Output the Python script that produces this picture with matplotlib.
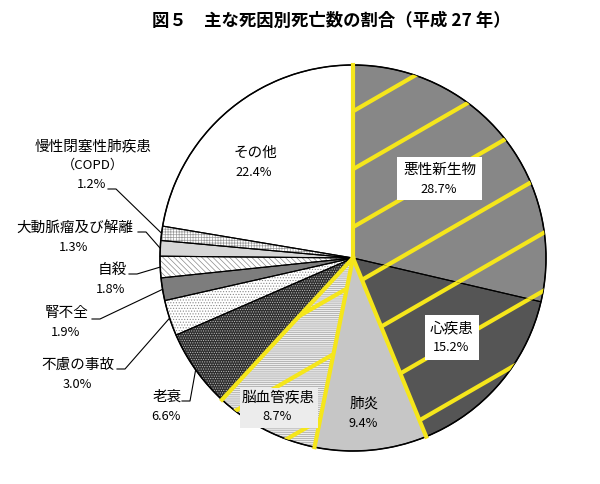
import matplotlib
matplotlib.use("Agg")
import matplotlib.pyplot as plt
from matplotlib.patches import Wedge, Circle, Rectangle
import numpy as np

plt.rcParams['font.family'] = ['Noto Sans CJK JP', 'DejaVu Sans']
plt.rcParams['hatch.linewidth'] = 0.5

# data: main causes of death, share of all deaths (H27)
causes = ['悪性新生物', '心疾患', '肺炎', '脳血管疾患', '老衰', '不慮の事故',
          '腎不全', '自殺', '大動脈瘤及び解離', '慢性閉塞性肺疾患', 'その他']
shares = [28.7, 15.2, 9.4, 8.7, 6.6, 3.0, 1.9, 1.8, 1.3, 1.2, 22.4]
pct_labels = ['%.1f%%' % s for s in shares]

# styles per slice
face_colors = ['#878787', '#555555', '#c6c6c6', '#ececec', '#2e2e2e', '#ffffff',
               '#7d7d7d', '#ffffff', '#d6d6d6', '#ffffff', '#ffffff']
hatches = [None, None, None, '--------', '.......', '......',
           None, '\\\\\\\\\\\\', None, '++++++', None]
hatch_colors = [None, None, None, '#a0a0a0', '#bdbdbd', '#8a8a8a',
                None, '#8a8a8a', None, '#9a9a9a', None]
striped = ['悪性新生物', '心疾患', '脳血管疾患']
yellow = '#f5e61b'

# pixel layout of the reference (center and radius of the pie)
CX, CY, R = 353, 258, 193
W, H = 600, 484


def px(x, y):
    return ((x - CX) / R, (CY - y) / R)


fig = plt.figure(figsize=(6, 4.84), dpi=100)
ax = fig.add_axes([0, 0, 1, 1])

wedges, _ = ax.pie(shares, startangle=90, counterclock=False, radius=1,
                   colors=face_colors, wedgeprops=dict(linewidth=0, zorder=1))

# hatch overlays and black outlines
for w, h, hc in zip(wedges, hatches, hatch_colors):
    if h:
        ax.add_patch(Wedge(w.center, w.r, w.theta1, w.theta2, facecolor='none',
                           edgecolor=hc, linewidth=0, hatch=h, zorder=2))
    ax.add_patch(Wedge(w.center, w.r, w.theta1, w.theta2, facecolor='none',
                       edgecolor='black', linewidth=0.8, zorder=3))
ax.add_patch(Circle((0, 0), 1, facecolor='none', edgecolor='black',
                    linewidth=1.1, zorder=3))

# yellow diagonal stripes on the highlighted slices
ang = np.deg2rad(30)
t = np.linspace(-2.5, 2.5, 2)
for w, name in zip(wedges, causes):
    if name not in striped:
        continue
    for k in range(-10, 11):
        c = 0.16 + 0.3 * k
        ys = np.tan(ang) * t + c
        ln, = ax.plot(t, ys, color=yellow, linewidth=3, zorder=4,
                      solid_capstyle='round')
        ln.set_clip_path(w)

# yellow boundaries around the top four causes
edge_angles = [wedges[0].theta2] + [w.theta1 for w in wedges[1:4]]
for deg in edge_angles:
    a = np.deg2rad(deg)
    ax.plot([0, np.cos(a)], [0, np.sin(a)], color=yellow, linewidth=3, zorder=5)

# label boxes
boxes = {'悪性新生物': (397, 157, 85, 43, 'white'),
         '心疾患': (425, 315, 54, 45, 'white'),
         '脳血管疾患': (240, 388, 78, 40, '#ececec')}
for name, (bx, by, bw, bh, bc) in boxes.items():
    x0, y0 = px(bx, by + bh)
    ax.add_patch(Rectangle((x0, y0), bw / R, bh / R, facecolor=bc,
                           edgecolor='none', zorder=6))

# label positions (pixel): first line center
label_pos = {'悪性新生物': (440, 170), '心疾患': (452, 328), '肺炎': (364, 404),
             '脳血管疾患': (278, 397), 'その他': (255, 153), '老衰': (167, 397),
             '不慮の事故': (78, 365), '腎不全': (67, 313), '自殺': (112, 270),
             '大動脈瘤及び解離': (75, 228), '慢性閉塞性肺疾患': (93, 146)}
extra_lines = {'慢性閉塞性肺疾患': ['（COPD）']}
leader_start = {'老衰': (182, 401), '不慮の事故': (117, 369), '腎不全': (92, 319),
                '自殺': (129, 274), '大動脈瘤及び解離': (138, 232),
                '慢性閉塞性肺疾患': (108, 189)}

for w, name, pct in zip(wedges, causes, pct_labels):
    x, y = label_pos[name]
    lines = [name] + extra_lines.get(name, [])
    for i, ln in enumerate(lines):
        fs = 10.5 if i == 0 else 9.5
        ax.text(*px(x, y + 19.5 * i), ln, ha='center', va='center',
                fontsize=fs, zorder=7)
    ax.text(*px(x - 1, y + 19.5 * len(lines)), pct, ha='center', va='center',
            fontsize=9.2, zorder=7)
    if name in leader_start:
        sx, sy = leader_start[name]
        mid = np.deg2rad((w.theta1 + w.theta2) / 2)
        p0 = px(sx, sy)
        p1 = px(sx + 8, sy)
        ax.plot([p0[0], p1[0], np.cos(mid)], [p0[1], p1[1], np.sin(mid)],
                color='black', linewidth=0.8, zorder=7)

ax.text(*px(331, 21), '図５　主な死因別死亡数の割合（平成 27 年）', ha='center',
        va='center', fontsize=12.5, fontweight='bold')

ax.set_aspect('auto')
ax.set_xlim(-CX / R, (W - CX) / R)
ax.set_ylim(-(H - CY) / R, CY / R)
ax.axis('off')

fig.savefig('out.png', dpi=100, facecolor='white')
